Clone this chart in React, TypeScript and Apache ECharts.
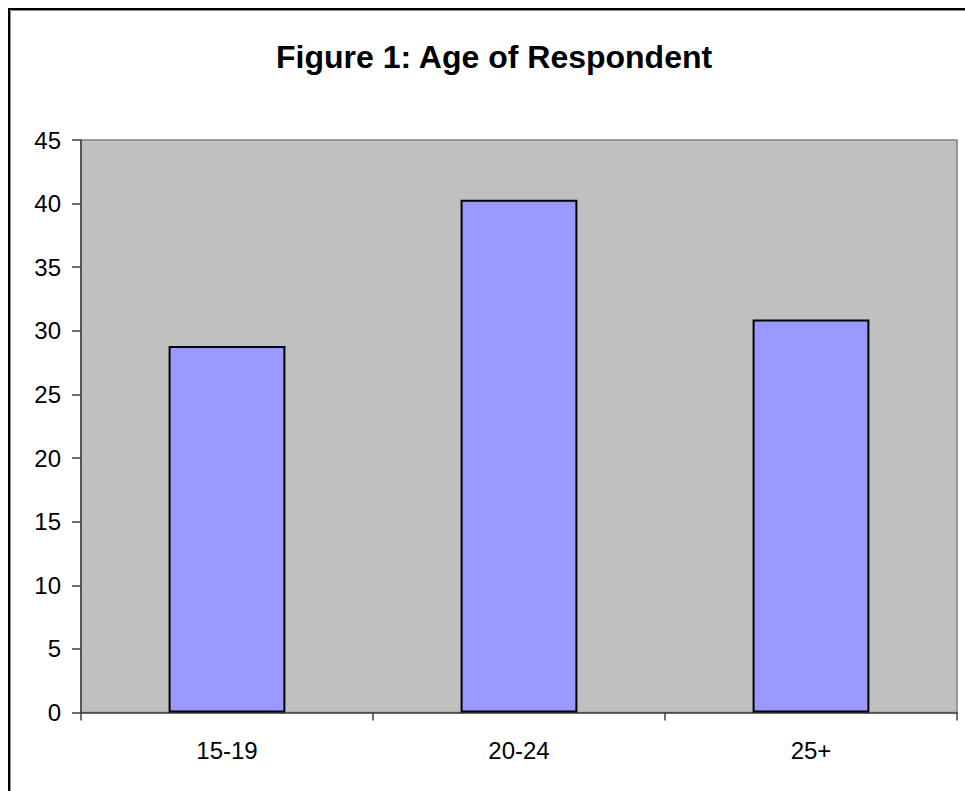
import React, { useEffect, useRef } from "react";
import * as echarts from "echarts";

const categories = ["15-19", "20-24", "25+"];
const values = [28.8, 40.3, 30.9];
const yTicks = { min: 0, max: 45, interval: 5 };
const titleText = "Figure 1: Age of Respondent";

const FONT = "'Liberation Sans', Arial, sans-serif";

export default function App() {
  const ref = useRef<HTMLDivElement>(null);
  useEffect(() => {
    if (!ref.current) return;
    const chart = echarts.init(ref.current, undefined, { renderer: "svg" });
    chart.setOption({
      animation: false,
      backgroundColor: "#ffffff",
      title: {
        text: titleText,
        left: 268,
        top: 33,
        padding: 0,
        textStyle: { fontFamily: FONT, fontSize: 32, fontWeight: "bold", color: "#000" },
      },
      grid: {
        left: 73,
        top: 132,
        right: 8,
        bottom: 78.5,
        show: true,
        backgroundColor: "#C0C0C0",
        borderColor: "#808080",
        borderWidth: 1.5,
      },
      graphic: [
        { type: "line", shape: { x1: 0, y1: 1, x2: 2000, y2: 1 }, style: { stroke: "#000", lineWidth: 2 } },
        { type: "line", shape: { x1: 1, y1: 0, x2: 1, y2: 2000 }, style: { stroke: "#000", lineWidth: 2 } },
        { type: "line", shape: { x1: 2.5, y1: 2.5, x2: 2000, y2: 2.5 }, style: { stroke: "#888", lineWidth: 1 } },
        { type: "line", shape: { x1: 2.5, y1: 2.5, x2: 2.5, y2: 2000 }, style: { stroke: "#888", lineWidth: 1 } },
      ],
      xAxis: {
        type: "category",
        data: categories,
        axisLine: { show: true, lineStyle: { color: "#404040", width: 1.5 } },
        axisTick: { show: true, length: 8, alignWithLabel: false, lineStyle: { color: "#404040", width: 1.5 } },
        axisLabel: { fontFamily: FONT, fontSize: 24, color: "#000", margin: 26 },
        splitLine: { show: false },
      },
      yAxis: {
        type: "value",
        min: yTicks.min,
        max: yTicks.max,
        interval: yTicks.interval,
        axisLine: { show: true, lineStyle: { color: "#404040", width: 1.5 } },
        axisTick: { show: true, length: 9, lineStyle: { color: "#404040", width: 1.5 } },
        axisLabel: { fontFamily: FONT, fontSize: 24, color: "#000", margin: 20 },
        splitLine: { show: false },
      },
      series: [
        {
          type: "bar",
          data: values,
          barWidth: "40%",
          itemStyle: { color: "#9999FF", borderColor: "#000", borderWidth: 2 },
        },
      ],
    });
    return () => chart.dispose();
  }, []);
  return (
    <div
      ref={ref}
      style={{ position: "fixed", left: 8, top: 8, width: 957, height: 783 }}
    />
  );
}
